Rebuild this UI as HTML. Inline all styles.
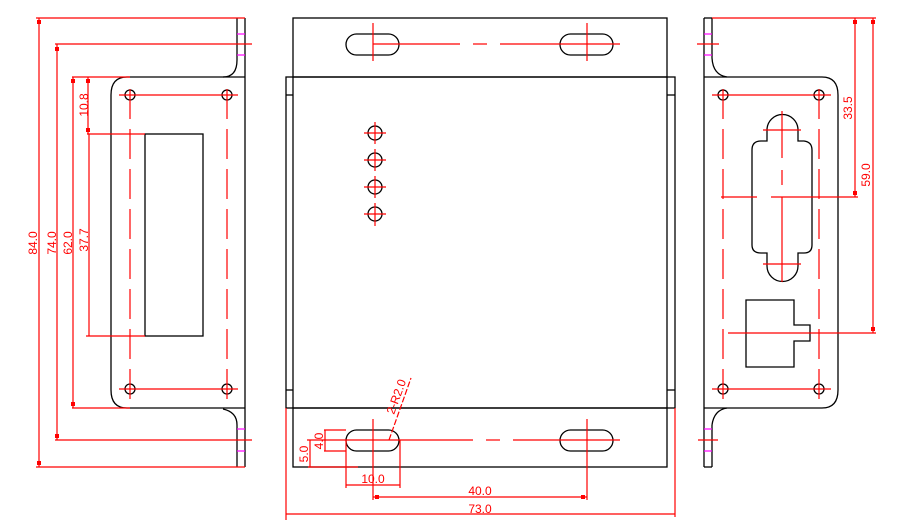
<!DOCTYPE html>
<html><head><style>body{margin:0;background:#fff}svg{display:block}</style></head><body>
<svg width="920" height="523" viewBox="0 0 920 523" xmlns="http://www.w3.org/2000/svg" font-family="Liberation Sans, sans-serif">
<g fill="none" stroke="#000" stroke-width="1.3">
<!-- left view -->
<line x1="237" y1="18" x2="237" y2="60"/><line x1="245" y1="18" x2="245" y2="467"/>
<line x1="237" y1="425" x2="237" y2="467"/>
<path d="M237 60 Q237 77 223 77"/><path d="M223 409 Q237 412 237 425"/>
<path d="M245 77 H127 Q111 77 111 95 V390 Q111 408 127 408 H245"/>
<rect x="145" y="134" width="58" height="202"/>
<circle cx="130" cy="95" r="5"/><circle cx="227" cy="95" r="5"/><circle cx="130" cy="389" r="5"/><circle cx="227" cy="389" r="5"/>
<!-- middle -->
<rect x="293" y="18" width="374" height="59"/>
<rect x="286" y="77" width="389" height="331"/>
<line x1="293" y1="77" x2="293" y2="408"/><line x1="667" y1="77" x2="667" y2="408"/>
<line x1="286" y1="95" x2="293" y2="95"/><line x1="667" y1="95" x2="675" y2="95"/>
<line x1="286" y1="390" x2="293" y2="390"/><line x1="667" y1="390" x2="675" y2="390"/>
<rect x="293" y="408" width="374" height="59"/>
<rect x="346" y="34" width="53" height="21" rx="10.5"/><rect x="560" y="34" width="53" height="21" rx="10.5"/>
<rect x="346" y="430" width="53" height="21" rx="10.5"/><rect x="560" y="430" width="53" height="21" rx="10.5"/>
<circle cx="375" cy="133" r="7"/><circle cx="375" cy="160" r="7"/><circle cx="375" cy="187" r="7"/><circle cx="375" cy="214" r="7"/>
<!-- right view -->
<line x1="704" y1="18" x2="704" y2="467"/><line x1="712" y1="18" x2="712" y2="58"/><line x1="712" y1="425" x2="712" y2="467"/>
<line x1="704" y1="18" x2="712" y2="18"/><line x1="704" y1="467" x2="712" y2="467"/>
<path d="M712 58 Q713 75 727 77"/><path d="M712 425 Q714 410 727 408"/>
<path d="M704 77 H822 Q838 77 838 95 V390 Q838 408 822 408 H704"/>
<circle cx="723" cy="95" r="5"/><circle cx="819" cy="95" r="5"/><circle cx="723" cy="389" r="5"/><circle cx="819" cy="389" r="5"/>
<path d="M767 141 V130 A15.5 15.5 0 0 1 798 130 V141 H804 Q812 142 812 150 V245 Q812 253 804 253 H798 V266 A15.5 15.5 0 0 1 767 266 V253 H761 Q752 253 752 245 V150 Q752 141 761 141 Z"/>
<path d="M794 300 H746 V367 H794 V341 H810 V325 H794 Z"/>
</g>
<g stroke="#f0f" stroke-width="1.2">
<line x1="237" y1="34" x2="245" y2="34"/><line x1="237" y1="55" x2="245" y2="55"/>
<line x1="237" y1="429" x2="245" y2="429"/><line x1="237" y1="451" x2="245" y2="451"/>
<line x1="704" y1="34" x2="712" y2="34"/><line x1="704" y1="55" x2="712" y2="55"/>
<line x1="704" y1="429" x2="712" y2="429"/><line x1="704" y1="451" x2="712" y2="451"/>
</g>
<g stroke="#f00" stroke-width="1.2" fill="none">
<!-- left dims -->
<line x1="36" y1="18" x2="245" y2="18"/><line x1="36" y1="467" x2="245" y2="467"/><line x1="39" y1="18" x2="39" y2="467"/>
<line x1="55" y1="44" x2="252" y2="44"/><line x1="55" y1="440" x2="252" y2="440"/><line x1="57" y1="44" x2="57" y2="440"/>
<line x1="72" y1="77" x2="130" y2="77"/><line x1="72" y1="408" x2="130" y2="408"/><line x1="73" y1="77" x2="73" y2="408"/>
<line x1="88" y1="77" x2="88" y2="134"/><line x1="89" y1="134" x2="89" y2="336"/>
<line x1="87" y1="134" x2="145" y2="134"/><line x1="86" y1="336" x2="145" y2="336"/>
<line x1="119" y1="95" x2="238" y2="95"/><line x1="119" y1="389" x2="238" y2="389"/>
<line x1="130" y1="89" x2="130" y2="400" stroke-dasharray="30 10"/><line x1="227" y1="89" x2="227" y2="400" stroke-dasharray="30 10"/>
<line x1="233" y1="23" x2="253" y2="23" stroke="none"/>
<!-- middle -->
<line x1="373" y1="23" x2="373" y2="61"/><line x1="587" y1="23" x2="587" y2="61"/>
<line x1="373" y1="44" x2="460" y2="44"/><line x1="473" y1="44" x2="487" y2="44"/><line x1="500" y1="44" x2="620" y2="44"/>
<line x1="364" y1="133" x2="386" y2="133"/><line x1="364" y1="160" x2="386" y2="160"/><line x1="364" y1="187" x2="386" y2="187"/><line x1="364" y1="214" x2="386" y2="214"/>
<line x1="375" y1="122" x2="375" y2="144"/><line x1="375" y1="149" x2="375" y2="171"/><line x1="375" y1="176" x2="375" y2="198"/><line x1="375" y1="203" x2="375" y2="226"/>
<line x1="373" y1="419" x2="373" y2="500"/><line x1="587" y1="419" x2="587" y2="500"/>
<line x1="307" y1="440" x2="473" y2="440"/><line x1="486" y1="440" x2="500" y2="440"/><line x1="513" y1="440" x2="620" y2="440"/>
<line x1="324" y1="430" x2="346" y2="430"/><line x1="325" y1="430" x2="325" y2="451"/><line x1="324" y1="451" x2="346" y2="451"/>
<line x1="310" y1="440" x2="310" y2="467"/><line x1="308" y1="467" x2="358" y2="467"/>
<line x1="346" y1="440" x2="346" y2="488"/><line x1="400" y1="440" x2="400" y2="488"/><line x1="346" y1="485" x2="400" y2="485"/>
<line x1="373" y1="497" x2="587" y2="497"/>
<line x1="286" y1="408" x2="286" y2="520"/><line x1="675" y1="408" x2="675" y2="517"/><line x1="286" y1="514" x2="675" y2="514"/>
<line x1="389" y1="440" x2="411" y2="378" stroke-dasharray="6 2"/>
<!-- right -->
<line x1="712" y1="18" x2="876" y2="18"/><line x1="855" y1="18" x2="855" y2="197"/><line x1="873" y1="18" x2="873" y2="333"/>
<line x1="721" y1="197" x2="757" y2="197"/><line x1="771" y1="197" x2="858" y2="197"/><line x1="728" y1="333" x2="876" y2="333"/>
<line x1="712" y1="95" x2="831" y2="95"/><line x1="712" y1="389" x2="831" y2="389"/>
<line x1="723" y1="89" x2="723" y2="400" stroke-dasharray="30 10"/><line x1="819" y1="89" x2="819" y2="400" stroke-dasharray="30 10"/>
<line x1="782" y1="111" x2="782" y2="158"/><line x1="782" y1="170" x2="782" y2="185"/><line x1="782" y1="197" x2="782" y2="282"/>
<line x1="763" y1="130" x2="801" y2="130"/><line x1="763" y1="264" x2="801" y2="264"/>
<line x1="697" y1="44" x2="719" y2="44"/><line x1="698" y1="440" x2="718" y2="440"/>
</g>
<g fill="#f00">
<rect x="37" y="20" width="4" height="4"/><rect x="37" y="461" width="4" height="4"/>
<rect x="55" y="47" width="4" height="4"/><rect x="55" y="434" width="4" height="4"/>
<rect x="71" y="79" width="4" height="4"/><rect x="71" y="402" width="4" height="4"/>
<rect x="86" y="79" width="4" height="4"/><rect x="86" y="128" width="4" height="4"/>
<rect x="853" y="20" width="4" height="4"/><rect x="853" y="191" width="4" height="4"/>
<rect x="871" y="20" width="4" height="4"/><rect x="871" y="327" width="4" height="4"/>
<rect x="375" y="495" width="4" height="4"/><rect x="581" y="495" width="4" height="4"/>
</g>
<g fill="#f00" font-size="12">
<text transform="translate(37,243) rotate(-90)" text-anchor="middle">84.0</text>
<text transform="translate(56,243) rotate(-90)" text-anchor="middle">74.0</text>
<text transform="translate(72,243) rotate(-90)" text-anchor="middle">62.0</text>
<text transform="translate(88,240) rotate(-90)" text-anchor="middle">37.7</text>
<text transform="translate(88,105) rotate(-90)" text-anchor="middle">10.8</text>
<text transform="translate(852,108) rotate(-90)" text-anchor="middle">33.5</text>
<text transform="translate(870,175) rotate(-90)" text-anchor="middle">59.0</text>
<text transform="translate(323,441) rotate(-90)" text-anchor="middle">4.0</text>
<text transform="translate(308,454) rotate(-90)" text-anchor="middle">5.0</text>
<text x="373" y="483" text-anchor="middle">10.0</text>
<text x="480" y="495" text-anchor="middle">40.0</text>
<text x="480" y="513" text-anchor="middle">73.0</text>
<text transform="translate(394,415) rotate(-70)">2-R2.0</text>
</g>
</svg>
</body></html>
